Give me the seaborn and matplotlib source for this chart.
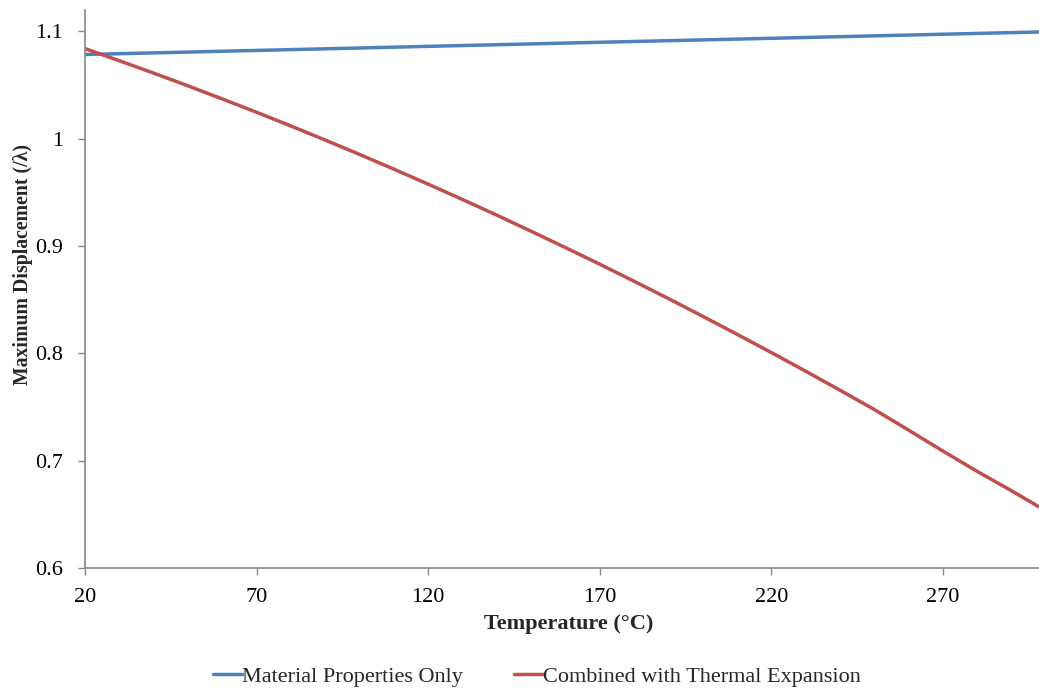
import numpy as np
import pandas as pd
import matplotlib
matplotlib.use("Agg")
import matplotlib.pyplot as plt
import seaborn as sns

# Temperature samples (°C) for each curve
temp_material = [20, 70, 120, 170, 220, 270, 298]
temp_thermal = [20, 30, 40, 50, 60, 70, 80, 90, 100, 110, 120, 130, 140, 150,
                160, 170, 180, 190, 200, 210, 220, 230, 240, 250, 260, 270,
                280, 290, 298]

# Maximum displacement (in wavelengths)
material_only = [1.0785, 1.0823, 1.0861, 1.0899, 1.0936, 1.0974, 1.0995]
with_thermal = [1.084, 1.0727, 1.0612, 1.0493, 1.0371, 1.0247, 1.0119, 0.9988,
                0.9854, 0.9717, 0.9577, 0.9434, 0.9288, 0.9138, 0.8986, 0.8831,
                0.8672, 0.8511, 0.8346, 0.8178, 0.8008, 0.7834, 0.7657, 0.7477,
                0.7285, 0.709, 0.690, 0.672, 0.657]

series_names = ["Material Properties Only", "Combined with Thermal Expansion"]
series_colors = ["#4F81BD", "#C0504D"]
x_ticks = [20, 70, 120, 170, 220, 270]
y_ticks = [0.6, 0.7, 0.8, 0.9, 1.0, 1.1]
y_tick_labels = ["0.6", "0.7", "0.8", "0.9", "1", "1.1"]

df = pd.concat([
    pd.DataFrame({"Temperature": temp_material, "Displacement": material_only,
                  "Series": series_names[0]}),
    pd.DataFrame({"Temperature": temp_thermal, "Displacement": with_thermal,
                  "Series": series_names[1]}),
], ignore_index=True)

sns.set_theme(style="white")
plt.rcParams["font.family"] = ["Liberation Serif", "DejaVu Serif"]

fig = plt.figure(figsize=(10.39, 6.88), dpi=100)
ax = fig.add_axes([0.0818, 0.1744, 0.9182, 0.8111])

sns.lineplot(data=df, x="Temperature", y="Displacement", hue="Series",
             palette=series_colors, hue_order=series_names, linewidth=2.5,
             ax=ax, legend=True)

ax.set_xlim(20, 298)
ax.set_ylim(0.6, 1.12)
ax.set_xticks(x_ticks)
ax.set_yticks(y_ticks)
ax.set_yticklabels(y_tick_labels)
ax.tick_params(axis="both", labelsize=16, colors="#888888", labelcolor="black",
               direction="out", length=5, width=1, bottom=True, left=True)
ax.tick_params(axis="x", pad=9.5)
ax.tick_params(axis="y", pad=10.5)

for side in ["top", "right"]:
    ax.spines[side].set_visible(False)
for side in ["left", "bottom"]:
    ax.spines[side].set_color("#888888")
    ax.spines[side].set_linewidth(1.2)

ax.set_xlabel("Temperature (°C)", fontsize=16, fontweight="bold")
ax.set_ylabel("Maximum Displacement (/λ)", fontsize=14.2, fontweight="bold")
ax.xaxis.set_label_coords(0.507, -0.083)
ax.yaxis.set_label_coords(-0.0545, 0.543)

handles, labels = ax.get_legend_handles_labels()
ax.get_legend().remove()
fig.legend(handles, labels, loc="center", bbox_to_anchor=(0.517, 0.016),
           ncol=2, frameon=False, fontsize=16, handlelength=1.3,
           handletextpad=0.0, columnspacing=2.3)

fig.savefig("out.png", dpi=100)
